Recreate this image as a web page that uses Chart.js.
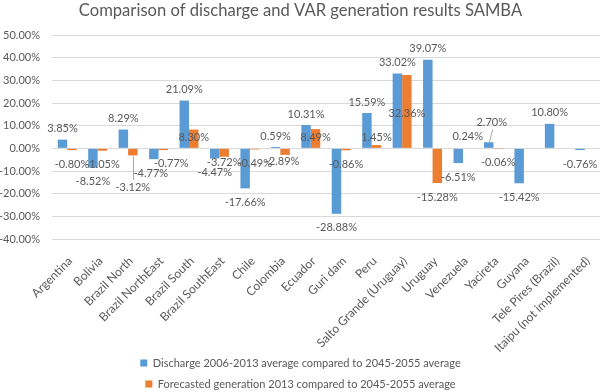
<!DOCTYPE html>
<html><head><meta charset="utf-8">
<script src="https://cdn.jsdelivr.net/npm/chart.js@4.4.1/dist/chart.umd.min.js"></script>
<style>html,body{margin:0;padding:0;background:#fff}</style>
</head><body>
<canvas id="c" width="602" height="392"></canvas>
<script>
const categories = ["Argentina","Bolivia","Brazil North","Brazil NorthEast","Brazil South","Brazil SouthEast","Chile","Colombia","Ecuador","Guri dam","Peru","Salto Grande (Uruguay)","Uruguay","Venezuela","Yacireta","Guyana","Tele Pires (Brazil)","Itaipu (not implemented)"];
const discharge = [3.85,-8.52,8.29,-4.77,21.09,-4.47,-17.66,0.59,10.31,-28.88,15.59,33.02,39.07,-6.51,2.70,-15.42,10.80,-0.76];
const generation = [-0.80,-1.05,-3.12,-0.77,8.30,-3.72,-0.49,-2.89,8.49,-0.86,1.45,32.36,-15.28,0.24,-0.06,null,null,null];
const seriesNames = ["Discharge 2006-2013 average compared to 2045-2055 average","Forecasted generation 2013 compared to 2045-2055 average"];
const titleText = "Comparison of discharge and VAR generation results SAMBA";
const yMin = -40, yMax = 50, yStep = 10;

// label placement tweaks (dataset index -> point index -> [dx, dy, leader line])
const labelNudges = {
  0: {3: [-3, 0], 14: [3, -9, true]},
  1: {2: [0, 17.6, true], 3: [8, -1], 4: [0, 18.5], 5: [0, -8.7], 7: [-3, -7], 8: [0, 19], 10: [0, 3], 11: [0, 49]}
};

const FONT = "Lato, 'Open Sans', sans-serif";
const GREY = '#595959';

const valueLabels = {
  id: 'valueLabels',
  afterDatasetsDraw(chart) {
    const ctx = chart.ctx;
    ctx.save();
    ctx.font = '11px ' + FONT;
    ctx.textAlign = 'center';
    ctx.textBaseline = 'middle';
    chart.data.datasets.forEach((ds, di) => {
      const meta = chart.getDatasetMeta(di);
      meta.data.forEach((bar, i) => {
        const v = ds.data[i];
        if (v === null || v === undefined) return;
        const n = (labelNudges[di] && labelNudges[di][i]) || [0, 0];
        const x = bar.x + n[0];
        const y = (v >= 0 ? bar.y - 11 : bar.y + 14) + n[1];
        if (n[2]) {
          ctx.strokeStyle = '#A6A6A6';
          ctx.lineWidth = 1;
          ctx.beginPath();
          if (v >= 0) {
            ctx.moveTo(bar.x + 0.5, bar.y + 1);
            ctx.lineTo(x + 1, y + 7);
          } else {
            ctx.moveTo(Math.round(bar.x) + 0.5, bar.y + 1);
            ctx.lineTo(Math.round(x) + 0.5, y - 7);
          }
          ctx.stroke();
        }
        ctx.fillStyle = GREY;
        ctx.fillText(v.toFixed(2) + '%', x, y);
      });
    });
    ctx.restore();
  }
};

new Chart(document.getElementById('c'), {
  type: 'bar',
  data: {
    labels: categories,
    datasets: [
      {label: seriesNames[0], data: discharge, backgroundColor: '#5B9BD5', categoryPercentage: 0.623, barPercentage: 1},
      {label: seriesNames[1], data: generation, backgroundColor: '#ED7D31', categoryPercentage: 0.623, barPercentage: 1}
    ]
  },
  options: {
    responsive: false,
    animation: false,
    devicePixelRatio: 1,
    layout: {padding: {left: 0, right: 1, top: 0, bottom: -7.5}},
    plugins: {
      title: {display: true, text: titleText, color: GREY, font: {family: FONT, size: 16.6, weight: 'normal', lineHeight: 1.2}, padding: {top: 0.6, bottom: 14.5}},
      legend: {position: 'bottom', labels: {color: GREY, font: {family: FONT, size: 11}, boxWidth: 7, boxHeight: 7, padding: 10}},
      tooltip: {enabled: false}
    },
    scales: {
      x: {
        grid: {display: false},
        border: {display: false},
        ticks: {color: GREY, font: {family: FONT, size: 12}, maxRotation: 45, minRotation: 45, autoSkip: false, padding: 7, labelOffset: 3},
        afterFit(s) { s.height = 108.5; },
        afterUpdate(s) { s._computeLabelArea = function () { return undefined; }; }
      },
      y: {
        min: yMin, max: yMax,
        grid: {color: '#D9D9D9', drawTicks: false},
        border: {display: false},
        ticks: {stepSize: yStep, color: GREY, font: {family: FONT, size: 11}, padding: 12, callback: v => v.toFixed(2) + '%'},
        afterFit(s) { s.width = 52; }
      }
    }
  },
  plugins: [valueLabels]
});
</script>
</body></html>
